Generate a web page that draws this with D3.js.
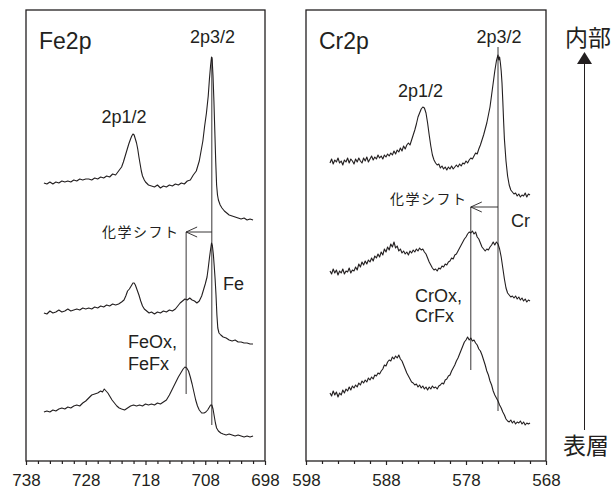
<!DOCTYPE html>
<html><head><meta charset="utf-8">
<script src="https://cdn.jsdelivr.net/npm/d3@7"></script>
<style>html,body{margin:0;padding:0;background:#fff}</style>
</head><body>
<script>
// ---- data: binding energy (eV) vs intensity (a.u.) ----
const feTicks = [738, 728, 718, 708, 698];
const crTicks = [598, 588, 578, 568];

const feTop = [[735.0,278],[734.5,277],[734.0,279],[733.5,277],[733.0,279],[732.5,278],[732.0,280],[731.5,279],[731.0,280],[730.5,279],[730.0,281],[729.5,280],[729.0,282],[728.5,281],[728.0,282],[727.5,282],[727.0,281],[726.5,283],[726.0,282],[725.5,284],[725.0,283],[724.5,285],[724.0,284],[723.5,287],[723.0,286],[722.5,290],[722.0,294],[721.7,299],[721.4,305],[721.1,311],[720.8,317],[720.5,322],[720.3,325],[720.1,327],[719.9,326],[719.7,322],[719.5,318],[719.3,312],[719.1,304],[718.9,297],[718.7,290],[718.5,285],[718.2,281],[718.0,279],[717.5,276],[717.0,275],[716.5,274],[716.0,276],[715.5,273],[715.0,275],[714.5,274],[714.0,276],[713.5,275],[713.0,277],[712.5,276],[712.0,278],[711.5,277],[711.0,280],[710.5,281],[710.0,286],[709.5,290],[709.0,300],[708.7,310],[708.4,320],[708.1,335],[707.8,348],[707.5,365],[707.3,382],[707.1,396],[706.95,404],[706.85,402],[706.7,385],[706.55,360],[706.4,330],[706.25,300],[706.1,276],[705.95,266],[705.8,261],[705.5,256],[705.2,253],[704.8,250],[704.4,248],[704.0,246],[703.5,245],[703.0,244],[702.5,243],[702.0,242],[701.5,243],[701.0,241],[700.5,242],[700.0,241]];

const feMid = [[735.0,148],[734.5,147],[734.0,150],[733.5,148],[733.0,149],[732.5,151],[732.0,149],[731.5,150],[731.0,152],[730.5,150],[730.0,151],[729.5,152],[729.0,151],[728.5,153],[728.0,152],[727.5,153],[727.0,152],[726.5,154],[726.0,153],[725.5,155],[725.0,154],[724.5,156],[724.0,155],[723.5,157],[723.0,156],[722.5,157],[722.0,159],[721.6,161],[721.3,165],[721.0,170],[720.7,172],[720.4,175],[720.1,178],[719.9,178],[719.7,176],[719.4,171],[719.1,166],[718.8,160],[718.5,155],[718.2,152],[717.8,150],[717.4,148],[717.0,149],[716.5,147],[716.0,149],[715.5,148],[715.0,150],[714.5,149],[714.0,151],[713.5,150],[713.0,152],[712.6,155],[712.2,158],[711.8,160],[711.4,162],[711.0,161],[710.6,163],[710.2,161],[709.8,160],[709.4,158],[709.0,160],[708.6,165],[708.3,171],[708.0,177],[707.7,184],[707.5,193],[707.3,203],[707.1,212],[706.95,218],[706.8,215],[706.65,207],[706.5,195],[706.35,182],[706.2,166],[706.05,146],[705.9,133],[705.7,128],[705.4,126],[705.0,124],[704.5,123],[704.0,121],[703.5,120],[703.0,121],[702.5,119],[702.0,119],[701.5,118],[701.0,118],[700.5,117],[700.0,117]];

const feBot = [[735.0,49],[734.5,50],[734.0,49],[733.5,51],[733.0,50],[732.5,52],[732.0,53],[731.5,52],[731.0,54],[730.5,53],[730.0,55],[729.5,56],[729.0,55],[728.5,58],[728.0,60],[727.5,63],[727.0,66],[726.5,67],[726.0,68],[725.5,70],[725.2,69],[724.9,72],[724.6,70],[724.3,68],[724.0,65],[723.6,61],[723.2,58],[722.8,55],[722.4,53],[722.0,52],[721.5,51],[721.0,53],[720.5,55],[720.0,56],[719.5,55],[719.0,56],[718.5,55],[718.0,57],[717.5,56],[717.0,57],[716.5,56],[716.0,58],[715.5,57],[715.0,59],[714.5,61],[714.0,66],[713.5,72],[713.0,78],[712.5,84],[712.0,89],[711.7,92],[711.4,94],[711.1,93],[710.8,90],[710.5,84],[710.2,77],[709.9,69],[709.6,61],[709.3,55],[709.0,51],[708.6,48],[708.2,48],[707.9,49],[707.6,51],[707.3,54],[707.1,56],[706.9,56],[706.7,52],[706.5,45],[706.3,38],[706.1,33],[705.8,30],[705.4,28],[705.0,27],[704.5,26],[704.0,27],[703.5,26],[703.0,25],[702.5,26],[702.0,25],[701.5,24],[701.0,25],[700.5,24],[700.0,25]];

const crTop = [[595.0,298],[594.8,302],[594.6,297],[594.4,301],[594.2,299],[594.0,303],[593.8,298],[593.6,300],[593.4,296],[593.2,301],[593.0,299],[592.8,303],[592.6,298],[592.4,302],[592.2,300],[592.0,297],[591.8,302],[591.6,299],[591.4,303],[591.2,300],[591.0,298],[590.8,303],[590.6,300],[590.4,304],[590.2,299],[590.0,302],[589.8,305],[589.6,301],[589.4,304],[589.2,302],[589.0,306],[588.8,303],[588.6,305],[588.4,302],[588.2,306],[588.0,304],[587.8,307],[587.6,305],[587.4,308],[587.2,306],[587.0,310],[586.8,307],[586.6,311],[586.4,309],[586.2,313],[586.0,310],[585.8,315],[585.6,312],[585.4,316],[585.2,318],[585.0,316],[584.8,321],[584.6,326],[584.4,331],[584.2,337],[584.0,344],[583.8,348],[583.6,352],[583.4,354],[583.2,353],[583.0,348],[582.8,338],[582.6,326],[582.4,315],[582.2,306],[582.0,301],[581.8,298],[581.6,296],[581.4,297],[581.2,293],[581.0,295],[580.8,292],[580.6,294],[580.4,291],[580.2,294],[580.0,292],[579.8,295],[579.6,292],[579.4,294],[579.2,296],[579.0,294],[578.8,297],[578.6,295],[578.4,298],[578.2,297],[578.0,300],[577.8,298],[577.6,301],[577.4,303],[577.2,302],[577.0,305],[576.8,308],[576.6,307],[576.4,312],[576.2,316],[576.0,321],[575.8,326],[575.6,332],[575.4,338],[575.2,346],[575.0,354],[574.8,366],[574.6,378],[574.4,390],[574.2,400],[574.0,406],[573.9,401],[573.8,404],[573.7,398],[573.6,390],[573.5,378],[573.4,360],[573.3,340],[573.2,322],[573.0,300],[572.8,285],[572.6,276],[572.4,271],[572.2,269],[572.0,267],[571.8,268],[571.6,265],[571.4,267],[571.2,264],[571.0,266],[570.8,265],[570.6,268],[570.4,264],[570.2,267],[570.0,266]];

const crMid = [[595.0,190],[594.8,187],[594.6,192],[594.4,188],[594.2,191],[594.0,186],[593.8,190],[593.6,188],[593.4,192],[593.2,187],[593.0,190],[592.8,189],[592.6,193],[592.4,188],[592.2,191],[592.0,190],[591.8,194],[591.6,191],[591.4,197],[591.2,194],[591.0,199],[590.8,196],[590.6,200],[590.4,197],[590.2,201],[590.0,199],[589.8,203],[589.6,200],[589.4,205],[589.2,203],[589.0,207],[588.8,204],[588.6,209],[588.4,206],[588.2,212],[588.0,209],[587.8,214],[587.6,211],[587.4,217],[587.2,214],[587.0,219],[586.8,213],[586.6,215],[586.4,210],[586.2,212],[586.0,208],[585.8,210],[585.6,207],[585.4,209],[585.2,206],[585.0,210],[584.8,208],[584.6,211],[584.4,209],[584.2,212],[584.0,210],[583.8,213],[583.6,211],[583.4,212],[583.2,209],[583.0,207],[582.8,203],[582.6,199],[582.4,196],[582.2,193],[582.0,191],[581.8,192],[581.6,190],[581.4,193],[581.2,192],[581.0,195],[580.8,194],[580.6,197],[580.4,196],[580.2,199],[580.0,200],[579.8,203],[579.6,202],[579.4,206],[579.2,207],[579.0,210],[578.8,213],[578.6,216],[578.4,219],[578.2,222],[578.0,224],[577.8,227],[577.6,229],[577.4,228],[577.2,230],[577.0,227],[576.8,229],[576.6,224],[576.4,222],[576.2,218],[576.0,214],[575.8,212],[575.6,210],[575.4,212],[575.2,211],[575.0,214],[574.8,216],[574.6,219],[574.4,216],[574.2,219],[574.0,217],[573.8,212],[573.6,204],[573.4,193],[573.2,182],[573.0,173],[572.8,168],[572.6,166],[572.4,164],[572.2,165],[572.0,163],[571.8,165],[571.6,162],[571.4,164],[571.2,161],[571.0,163],[570.8,160],[570.6,162],[570.4,159],[570.2,161],[570.0,160]];

const crBot = [[595.0,68],[594.8,65],[594.6,70],[594.4,66],[594.2,69],[594.0,64],[593.8,68],[593.6,66],[593.4,71],[593.2,68],[593.0,72],[592.8,70],[592.6,74],[592.4,71],[592.2,75],[592.0,73],[591.8,76],[591.6,74],[591.4,78],[591.2,76],[591.0,80],[590.8,78],[590.6,81],[590.4,79],[590.2,83],[590.0,81],[589.8,84],[589.6,82],[589.4,86],[589.2,85],[589.0,88],[588.8,87],[588.6,90],[588.4,92],[588.2,96],[588.0,95],[587.8,99],[587.6,101],[587.4,100],[587.2,104],[587.0,102],[586.8,105],[586.6,103],[586.4,106],[586.2,102],[586.0,100],[585.8,96],[585.6,92],[585.4,88],[585.2,85],[585.0,82],[584.8,79],[584.6,78],[584.4,76],[584.2,77],[584.0,74],[583.8,76],[583.6,73],[583.4,75],[583.2,72],[583.0,74],[582.8,71],[582.6,74],[582.4,72],[582.2,75],[582.0,73],[581.8,74],[581.6,72],[581.4,75],[581.2,76],[581.0,78],[580.8,77],[580.6,81],[580.4,82],[580.2,85],[580.0,86],[579.8,90],[579.6,93],[579.4,96],[579.2,100],[579.0,103],[578.8,107],[578.6,111],[578.4,115],[578.2,119],[578.0,121],[577.8,124],[577.6,121],[577.4,123],[577.2,120],[577.0,121],[576.8,118],[576.6,116],[576.4,112],[576.2,110],[576.0,106],[575.8,101],[575.6,96],[575.4,90],[575.2,86],[575.0,80],[574.8,76],[574.6,70],[574.4,66],[574.2,63],[574.0,60],[573.8,56],[573.6,53],[573.4,49],[573.2,46],[573.0,42],[572.8,40],[572.6,39],[572.4,41],[572.2,38],[572.0,40],[571.8,37],[571.6,39],[571.4,38],[571.2,40],[571.0,37],[570.8,39],[570.6,36],[570.4,38],[570.2,37],[570.0,38]];

// marker lines: [BE, I from, I to]
const feMarkers = [[706.9, 404, 36], [711.2, 229, 67]];
const crMarkers = [[574.0, 414, 50], [577.4, 254, 91]];
// chemical shift arrows: [from BE, to BE, I]
const feShift = [706.9, 711.2, 229];
const crShift = [574.0, 577.4, 254];

// ---- drawing ----
const INK = '#231f20';
const SANS = "'Liberation Sans', Arial, Helvetica, sans-serif";
const JP = "'Noto Sans CJK JP', 'Noto Sans CJK SC', sans-serif";
const W = 616, H = 489, TOP = 10, BOTTOM = 461;

const svg = d3.select('body').append('svg').attr('width', W).attr('height', H);

function panel(cfg) {
  const x = d3.scaleLinear().domain(cfg.domain).range([cfg.left, cfg.right]);
  const y = d3.scaleLinear().domain([0, 451]).range([BOTTOM, TOP]);
  const g = svg.append('g');

  const lo = Math.min(...cfg.domain), hi = Math.max(...cfg.domain);
  const minors = d3.range(lo, hi + 0.001, 2).filter(v => !cfg.ticks.includes(v));
  const minorAx = g.append('g').attr('transform', `translate(0,${BOTTOM})`)
    .call(d3.axisBottom(x).tickValues(minors).tickSize(3).tickFormat(''));
  const majorAx = g.append('g').attr('transform', `translate(0,${BOTTOM})`)
    .call(d3.axisBottom(x).tickValues(cfg.ticks).tickSize(4).tickPadding(9).tickFormat(d3.format('d')));
  [minorAx, majorAx].forEach(a => {
    a.select('.domain').remove();
    a.selectAll('line').attr('stroke', INK).attr('stroke-width', 1.2);
    a.selectAll('text').attr('fill', INK).style('font-family', SANS).style('font-size', '17px');
  });

  g.append('rect').attr('x', cfg.left).attr('y', TOP)
    .attr('width', cfg.right - cfg.left).attr('height', BOTTOM - TOP)
    .attr('fill', 'none').attr('stroke', INK).attr('stroke-width', 1.3);

  const line = d3.line().x(d => x(d[0])).y(d => y(d[1]));
  cfg.series.forEach(s => {
    g.append('path').datum(s).attr('d', line).attr('fill', 'none')
      .attr('stroke', INK).attr('stroke-width', 1.1).attr('stroke-linejoin', 'round');
  });

  cfg.markers.forEach(m => {
    g.append('line').attr('x1', x(m[0])).attr('x2', x(m[0]))
      .attr('y1', y(m[1])).attr('y2', y(m[2])).attr('stroke', INK).attr('stroke-width', 0.9);
  });
  const [fb, tb, si] = cfg.shift;
  const ax0 = x(fb), ax1 = x(tb), ay = y(si);
  g.append('line').attr('x1', ax0).attr('x2', ax1).attr('y1', ay).attr('y2', ay)
    .attr('stroke', INK).attr('stroke-width', 0.9);
  g.append('path').attr('d', `M${ax1 + 11},${ay - 5}L${ax1},${ay}L${ax1 + 11},${ay + 5}`)
    .attr('fill', 'none').attr('stroke', INK).attr('stroke-width', 0.9);

  cfg.labels.forEach(l => {
    g.append('text').attr('x', l.x).attr('y', l.y).text(l.t)
      .attr('text-anchor', l.anchor || 'start').attr('fill', INK)
      .style('font-family', l.jp ? JP : SANS).style('font-size', l.size + 'px')
      .style('letter-spacing', l.ls ? l.ls + 'px' : null);
  });
}

panel({
  domain: [738, 698], left: 26, right: 265, ticks: feTicks,
  series: [feTop, feMid, feBot], markers: feMarkers, shift: feShift,
  labels: [
    {t: 'Fe2p', x: 39, y: 49, size: 23},
    {t: '2p3/2', x: 212.5, y: 43, size: 18, anchor: 'middle'},
    {t: '2p1/2', x: 124, y: 123, size: 18, anchor: 'middle'},
    {t: '化学シフト', x: 102, y: 237, size: 14, jp: true, ls: 1.5},
    {t: 'Fe', x: 223, y: 290, size: 18},
    {t: 'FeOx,', x: 128, y: 348, size: 18},
    {t: 'FeFx', x: 128, y: 370, size: 18}
  ]
});

panel({
  domain: [598, 568], left: 306, right: 546, ticks: crTicks,
  series: [crTop, crMid, crBot], markers: crMarkers, shift: crShift,
  labels: [
    {t: 'Cr2p', x: 319, y: 49, size: 23},
    {t: '2p3/2', x: 499, y: 43, size: 18, anchor: 'middle'},
    {t: '2p1/2', x: 420.5, y: 97, size: 18, anchor: 'middle'},
    {t: '化学シフト', x: 390, y: 204, size: 14, jp: true, ls: 1.5},
    {t: 'Cr', x: 511, y: 227, size: 18},
    {t: 'CrOx,', x: 415, y: 302, size: 18},
    {t: 'CrFx', x: 415, y: 322, size: 18}
  ]
});

// depth arrow (surface -> bulk)
const ax = 584.5;
svg.append('line').attr('x1', ax).attr('x2', ax).attr('y1', 430).attr('y2', 62)
  .attr('stroke', INK).attr('stroke-width', 1);
svg.append('path').attr('d', `M${ax},52L${ax - 7.5},64L${ax + 7.5},64Z`).attr('fill', INK);
svg.append('text').attr('x', 588).attr('y', 46).attr('text-anchor', 'middle').text('内部')
  .attr('fill', INK).style('font-family', JP).style('font-size', '23px');
svg.append('text').attr('x', 586).attr('y', 454).attr('text-anchor', 'middle').text('表層')
  .attr('fill', INK).style('font-family', JP).style('font-size', '23px');
</script>
</body></html>
